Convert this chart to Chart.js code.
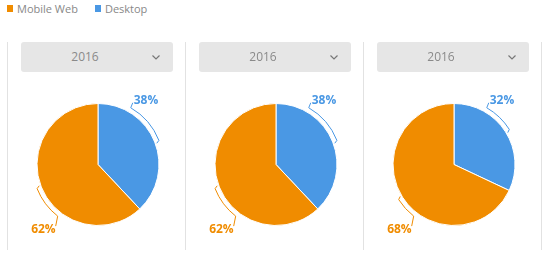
<!DOCTYPE html>
<html>
<head>
<meta charset="utf-8">
<script src="https://cdn.jsdelivr.net/npm/chart.js@4"></script>
<style>
  body { margin: 0; width: 554px; height: 258px; background: #fff; font-family: 'Open Sans', sans-serif; position: relative; overflow: hidden; }
  .legend { position: absolute; left: 7px; top: 0; height: 16px; display: flex; align-items: center; font-size: 11px; color: #888; }
  .legend .item { display: flex; align-items: center; margin-right: 17px; }
  .legend .sw { width: 6px; height: 7px; margin-right: 4px; }
  .panels { position: absolute; left: 7px; top: 42px; width: 535px; height: 208px; display: flex; }
  .panel { flex: 1; position: relative; border-left: 1px solid #e2e2e2; }
  .panel:last-child { border-right: 1px solid #e2e2e2; }
  .select { position: absolute; left: 13px; right: 12px; top: 0; height: 30px; background: #e6e6e6; border-radius: 3px; color: #8a8a8a; font-size: 12px; }
  .select span { position: absolute; left: 0; right: 24px; top: 0; line-height: 30px; text-align: center; }
  .select svg { position: absolute; right: 13px; top: 13px; }
  .panel canvas { position: absolute; left: 0; top: 38px; }
</style>
</head>
<body>
<div class="legend" id="legend"></div>
<div class="panels" id="panels"></div>
<script>
// ---- data ----
const categories = ['Desktop', 'Mobile Web'];
const legendOrder = ['Mobile Web', 'Desktop'];
const colors = { 'Desktop': '#4a98e4', 'Mobile Web': '#f08c00' };
const years = ['2016', '2016', '2016'];
const desktopValues = [38, 38, 32];
const mobileValues = [62, 62, 68];

// legend
document.getElementById('legend').innerHTML = legendOrder.map(c =>
  `<div class="item"><div class="sw" style="background:${colors[c]}"></div>${c}</div>`).join('');

// bracket + percent label plugin
const bracketLabels = {
  id: 'bracketLabels',
  afterDatasetsDraw(chart) {
    const ctx = chart.ctx;
    const meta = chart.getDatasetMeta(0);
    const data = chart.data.datasets[0].data;
    const total = data.reduce((a, b) => a + b, 0);
    meta.data.forEach((arc, i) => {
      const p = arc.getProps(['x', 'y', 'startAngle', 'endAngle', 'outerRadius'], true);
      const mid = (p.startAngle + p.endAngle) / 2;
      const top = mid < Math.PI / 2;
      const labelAngle = top ? -Math.PI / 3 : 128 * Math.PI / 180;
      const rb = p.outerRadius + 4.5;
      const color = chart.data.datasets[0].backgroundColor[i];
      const ex = p.x + Math.cos(labelAngle) * rb;
      const ey = p.y + Math.sin(labelAngle) * rb;
      ctx.save();
      ctx.strokeStyle = color;
      ctx.lineWidth = 1;
      ctx.beginPath();
      ctx.moveTo(p.x + Math.cos(mid + 0.03) * (p.outerRadius + 1.5), p.y + Math.sin(mid + 0.03) * (p.outerRadius + 1.5));
      ctx.arc(p.x, p.y, rb, mid, labelAngle, true);
      let tx, ty;
      if (top) { tx = ex + 2; ty = ey - 5; } else { tx = ex - 2; ty = ey + 10; }
      ctx.lineTo(tx, ty);
      ctx.stroke();
      ctx.fillStyle = color;
      ctx.font = 'bold 12px "Open Sans"';
      ctx.textBaseline = 'middle';
      const txt = Math.round(data[i] / total * 100) + '%';
      if (top) { ctx.textAlign = 'left'; ctx.fillText(txt, tx + 1, ty - 2); }
      else { ctx.textAlign = 'right'; ctx.fillText(txt, tx, ty + 3); }
      ctx.restore();
    });
  }
};

const panelsEl = document.getElementById('panels');
years.forEach((yr, k) => {
  const panel = document.createElement('div');
  panel.className = 'panel';
  panel.innerHTML = `<div class="select"><span>${yr}</span>
    <svg width="8" height="5" viewBox="0 0 8 5"><polyline points="0.5,0.5 4,4 7.5,0.5" fill="none" stroke="#777" stroke-width="1.2"/></svg></div>`;
  panelsEl.appendChild(panel);
  const w = panel.clientWidth;
  const canvas = document.createElement('canvas');
  canvas.width = w; canvas.height = 170;
  canvas.style.width = w + 'px'; canvas.style.height = '170px';
  panel.appendChild(canvas);

  new Chart(canvas.getContext('2d'), {
    type: 'pie',
    data: {
      labels: categories,
      datasets: [{
        data: [desktopValues[k], mobileValues[k]],
        backgroundColor: categories.map(c => colors[c]),
        borderColor: '#fff',
        borderWidth: 1
      }]
    },
    options: {
      responsive: false,
      animation: false,
      layout: { padding: { top: 23, bottom: 24, left: 28, right: w - 28 - 124 } },
      plugins: { legend: { display: false }, tooltip: { enabled: false } }
    },
    plugins: [bracketLabels]
  });
});
</script>
</body>
</html>
